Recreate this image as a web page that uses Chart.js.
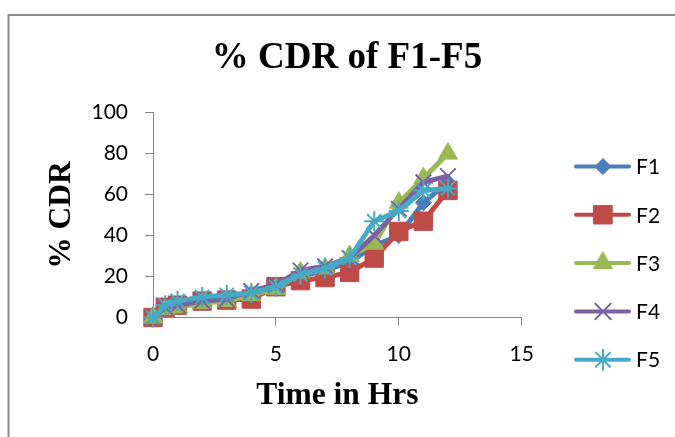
<!DOCTYPE html>
<html>
<head>
<meta charset="utf-8">
<script src="https://cdn.jsdelivr.net/npm/chart.js@4.4.1/dist/chart.umd.min.js"></script>
<style>
  html, body { margin: 0; padding: 0; background: #fff; overflow: hidden; }
  #wrap { width: 675px; height: 437px; }
</style>
</head>
<body>
<div id="wrap"><canvas id="cdrChart" width="675" height="437"></canvas></div>
<script>
// --- data ---
const hours = [0, 0.5, 1, 2, 3, 4, 5, 6, 7, 8, 9, 10, 11, 12];
const seriesNames = ['F1', 'F2', 'F3', 'F4', 'F5'];
const f1 = [0, 4, 6, 8, 9, 11, 15, 20, 23, 27, 35, 40, 56, 66];
const f2 = [0, 5, 6, 8, 8.5, 9, 15, 18, 19.5, 22, 29, 42, 47, 62];
const f3 = [0, 4, 5, 7, 8, 11, 14, 22, 24, 30, 36, 56, 68, 80];
const f4 = [0, 5, 6, 8, 9, 13, 16, 23, 25, 29, 40, 53, 66, 69];
const f5 = [0, 6, 8, 10, 11, 12, 15, 21, 24, 29, 47, 52, 62, 63];
const xTicks = [0, 5, 10, 15];
const yTicks = [0, 20, 40, 60, 80, 100];

// --- looks ---
const colors = ['#4A7EBB', '#BE4B48', '#98B954', '#7D60A0', '#46AAC5'];
const markers = ['rectRot', 'rect', 'triangle', 'crossRot', 'star'];
const markerSize = [8, 13, 11, 11, 10];
const tickFont = { family: 'Lato', size: 21 };
const titleFont = { family: 'Liberation Serif', weight: 'bold', size: 31.5, lineHeight: 1 };

const allSeries = [f1, f2, f3, f4, f5];
const datasets = allSeries.map((vals, i) => ({
    label: seriesNames[i],
    data: hours.map((h, k) => ({ x: h, y: vals[k] })),
    borderColor: colors[i],
    backgroundColor: colors[i],
    borderWidth: 5,
    pointStyle: markers[i],
    pointRadius: markerSize[i],
    pointHoverRadius: markerSize[i],
    pointBackgroundColor: colors[i],
    pointBorderColor: colors[i],
    pointBorderWidth: (markers[i] === 'crossRot' || markers[i] === 'star') ? 2 : 1,
    tension: 0,
    clip: false,
    order: allSeries.length - i   // F5 drawn last, on top
}));

// frame round the chart
const framePlugin = {
    id: 'frame',
    beforeDraw(chart) {
        const ctx = chart.ctx;
        ctx.save();
        ctx.strokeStyle = '#8a8a8a';
        ctx.lineWidth = 2;
        ctx.strokeRect(8.5, 15, 700, 500);
        ctx.restore();
    }
};

// Excel style legend on the right
const legendPlugin = {
    id: 'sideLegend',
    afterDraw(chart) {
        const ctx = chart.ctx;
        chart.data.datasets.forEach((ds, i) => {
            const y = 166.5 + i * 48.3;
            ctx.save();
            ctx.strokeStyle = ds.borderColor;
            ctx.lineWidth = 4;
            ctx.lineCap = 'round';
            ctx.beginPath();
            ctx.moveTo(576, y);
            ctx.lineTo(629, y);
            ctx.stroke();
            ctx.fillStyle = ds.backgroundColor;
            ctx.strokeStyle = ds.borderColor;
            ctx.lineWidth = ds.pointBorderWidth;
            Chart.helpers.drawPoint(ctx, {
                pointStyle: ds.pointStyle,
                radius: ds.pointRadius,
                borderWidth: ds.pointBorderWidth,
                rotation: 0
            }, 603, y);
            ctx.fillStyle = '#000';
            ctx.font = tickFont.size + 'px ' + tickFont.family;
            ctx.textAlign = 'left';
            ctx.textBaseline = 'middle';
            ctx.fillText(ds.label, 636, y + 1);
            ctx.restore();
        });
    }
};

new Chart(document.getElementById('cdrChart'), {
    type: 'line',
    data: { datasets: datasets },
    options: {
        responsive: false,
        animation: false,
        events: [],
        layout: { padding: { left: 46, right: 27, top: 10, bottom: 25.5 } },
        plugins: {
            legend: { display: false },
            tooltip: { enabled: false },
            title: {
                display: true,
                text: '% CDR of F1-F5',
                color: '#000',
                font: { family: 'Liberation Serif', weight: 'bold', size: 37, lineHeight: 1.2 },
                padding: { top: 25.8, bottom: 32.4 }
            }
        },
        scales: {
            x: {
                type: 'linear',
                min: 0,
                max: 15,
                afterBuildTicks: s => { s.ticks = xTicks.map(v => ({ value: v })); },
                afterFit: s => { s.height = 94; },
                grid: { display: true, drawOnChartArea: false, drawTicks: true, tickLength: 8, color: '#868686', lineWidth: 1 },
                border: { display: true, color: '#868686', width: 1 },
                ticks: { color: '#000', font: tickFont, padding: 16, maxRotation: 0 },
                title: { display: true, text: 'Time in Hrs', color: '#000', font: titleFont, padding: 0 }
            },
            y: {
                type: 'linear',
                min: 0,
                max: 100,
                afterBuildTicks: s => { s.ticks = yTicks.map(v => ({ value: v })); },
                afterFit: s => { s.width = 107; },
                grid: { display: true, drawOnChartArea: false, drawTicks: true, tickLength: 8, color: '#868686', lineWidth: 1 },
                border: { display: true, color: '#868686', width: 1 },
                ticks: { color: '#000', font: tickFont, padding: 17 },
                title: { display: true, text: '% CDR', color: '#000', font: titleFont, padding: 0 }
            },
            // empty box that keeps room for the legend
            legendSpace: {
                type: 'linear',
                position: 'right',
                display: true,
                afterFit: s => { s.width = 126.3; },
                grid: { display: false },
                border: { display: false },
                ticks: { display: false },
                title: { display: false }
            }
        }
    },
    plugins: [framePlugin, legendPlugin]
});
</script>
</body>
</html>
